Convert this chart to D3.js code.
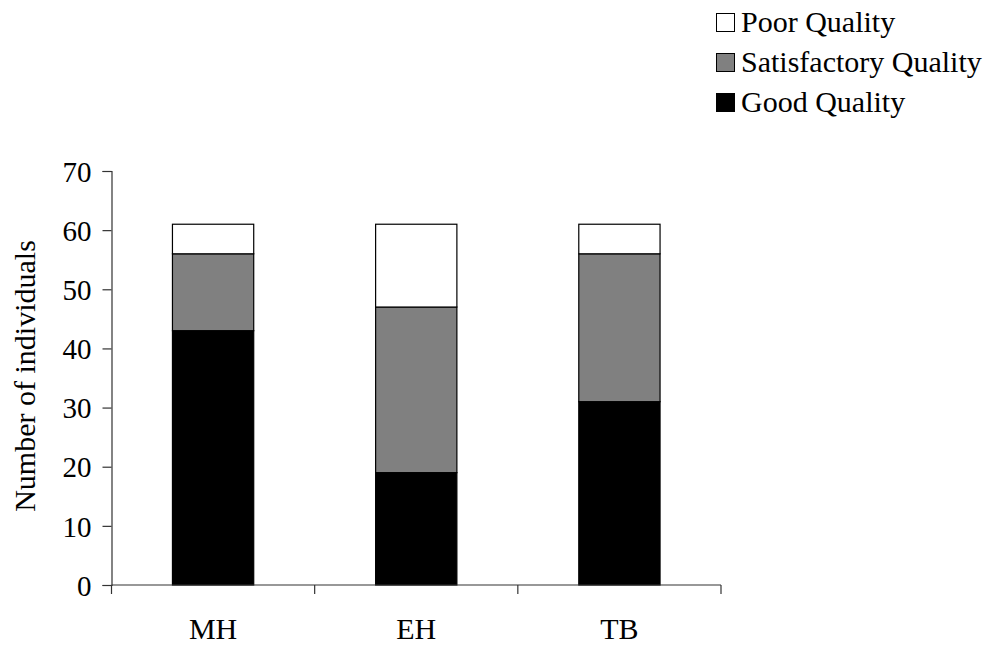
<!DOCTYPE html>
<html>
<head>
<meta charset="utf-8">
<script src="https://cdn.jsdelivr.net/npm/d3@7"></script>
<style>
  html, body { margin: 0; padding: 0; background: #fff; }
  svg text { font-family: "Liberation Serif", "Times New Roman", serif; fill: #000; }
</style>
</head>
<body>
<svg id="chart" width="995" height="648"></svg>
<script>
// Sites and counts of individuals by quality class
const categories = ["MH", "EH", "TB"];
const goodQuality = [43, 19, 31];
const satisfactoryQuality = [13, 28, 25];
const poorQuality = [5, 14, 5];
const yTicks = [0, 10, 20, 30, 40, 50, 60, 70];
const seriesNames = ["Good Quality", "Satisfactory Quality", "Poor Quality"];
const seriesColors = ["#000000", "#808080", "#ffffff"];

const svg = d3.select("#chart");

const x = d3.scaleBand()
  .domain(categories)
  .range([111.5, 721])
  .paddingInner(0.6)
  .paddingOuter(0.3);

const y = d3.scaleLinear().domain([0, 70]).range([585, 171]);

// Stack the three series bottom to top
const rows = categories.map((c, i) => ({
  cat: c,
  "Good Quality": goodQuality[i],
  "Satisfactory Quality": satisfactoryQuality[i],
  "Poor Quality": poorQuality[i]
}));
const stacked = d3.stack().keys(seriesNames)(rows);

const g = svg.append("g");
stacked.forEach((layer, li) => {
  g.selectAll(null)
    .data(layer)
    .join("rect")
    .attr("x", d => x(d.data.cat))
    .attr("width", x.bandwidth())
    .attr("y", d => y(d[1]))
    .attr("height", d => y(d[0]) - y(d[1]))
    .attr("fill", seriesColors[li])
    .attr("stroke", "#000")
    .attr("stroke-width", 1.2);
});

// Y axis
const yAxis = d3.axisLeft(y).tickValues(yTicks).tickSize(9).tickPadding(11).tickFormat(d3.format("d"));
const ya = svg.append("g").attr("transform", "translate(111.5,0)").call(yAxis);
ya.select(".domain").attr("stroke", "#333").attr("stroke-width", 1.2);
ya.selectAll(".tick line").attr("stroke", "#333").attr("stroke-width", 1.2);
ya.selectAll(".tick text").attr("font-size", 29).attr("dy", "0.35em");

// X axis baseline with ticks at category boundaries
const xa = svg.append("g");
xa.append("line")
  .attr("x1", 111.5).attr("x2", 721)
  .attr("y1", y(0)).attr("y2", y(0))
  .attr("stroke", "#333").attr("stroke-width", 1.2);
const bounds = [0, 1, 2, 3].map(i => x.range()[0] + i * x.step());
xa.selectAll(null).data(bounds).join("line")
  .attr("x1", d => d).attr("x2", d => d)
  .attr("y1", y(0)).attr("y2", y(0) + 9)
  .attr("stroke", "#333").attr("stroke-width", 1.2);
xa.selectAll(null).data(categories).join("text")
  .attr("x", d => x(d) + x.bandwidth() / 2)
  .attr("y", 639)
  .attr("text-anchor", "middle")
  .attr("font-size", 30)
  .text(d => d);

// Y axis title
svg.append("text")
  .attr("transform", "translate(35,376) rotate(-90)")
  .attr("text-anchor", "middle")
  .attr("font-size", 30)
  .text("Number of individuals");

// Legend, top entry is the top layer
const legendItems = [
  { name: "Poor Quality", color: "#ffffff" },
  { name: "Satisfactory Quality", color: "#808080" },
  { name: "Good Quality", color: "#000000" }
];
const lg = svg.append("g").attr("transform", "translate(716,0)");
legendItems.forEach((it, i) => {
  const top = 13 + i * 40;
  lg.append("rect")
    .attr("x", 0.5).attr("y", top + 0.5)
    .attr("width", 18).attr("height", 18)
    .attr("fill", it.color)
    .attr("stroke", "#000").attr("stroke-width", 1);
  lg.append("text")
    .attr("x", 25).attr("y", top + 19)
    .attr("font-size", 30)
    .text(it.name);
});
</script>
</body>
</html>
